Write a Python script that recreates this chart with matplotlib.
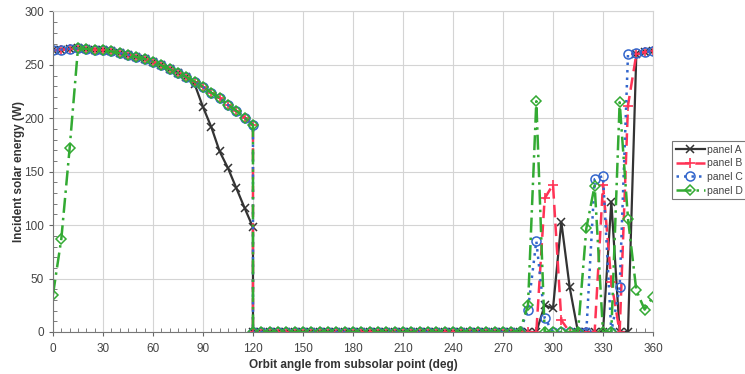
import numpy as np
import matplotlib
matplotlib.use("Agg")
import matplotlib.pyplot as plt
from matplotlib.ticker import MultipleLocator

plt.rcParams['font.family'] = ['Liberation Sans', 'DejaVu Sans']

# orbit angle samples (5 deg steps, with a duplicate point at 120 for the eclipse entry)
angles = list(range(0, 125, 5)) + list(range(120, 365, 5))

# sunlit curve shared by the panels from 0 to 120 deg
sunlit = [263.6, 264.3, 265.0, 265.5, 265.0, 264.3, 263.7, 262.7, 261.0, 259.6,
          257.4, 255.6, 252.8, 249.6, 246.0, 242.4, 238.7, 234.3, 229.3, 224.0,
          219.0, 212.5, 207.0, 200.6, 193.7]
panel_a_head = [263.6, 264.3, 265.0, 265.5, 265.0, 264.3, 263.7, 262.7, 261.0, 259.6,
                257.4, 255.6, 252.8, 249.6, 246.0, 242.4, 238.7, 232.0, 210.6, 191.8,
                169.0, 153.4, 134.7, 116.0, 98.0]
panel_d_head = [35.0, 87.0, 172.0, 265.5, 265.0, 264.3, 263.7, 262.7, 261.0, 259.6,
                257.4, 255.6, 252.8, 249.6, 246.0, 242.4, 238.7, 234.3, 229.3, 224.0,
                219.0, 212.5, 207.0, 200.6, 193.7]

# eclipse, 120 .. 280 deg
eclipse = [0.0] * 33

# 285 .. 360 deg
panel_a_tail = [0, 0, 25, 22, 103, 42, 0, 0, 0, 0, 122, 0, 0, 260, 262, 263]
panel_b_tail = [0, 0, 125, 138, 11, 0, 0, 0, 0, 138, 47, 0, 212, 260, 262, 263]
panel_c_tail = [21, 85, 13, 0, 0, 0, 0, 0, 143, 146, 0, 42, 260, 261, 262, 263]
panel_d_tail = [25, 216, 0, 0, 0, 0, 0, 97, 137, 0, 0, 215, 106, 39, 21, 33]

panel_a = panel_a_head + eclipse + panel_a_tail
panel_b = sunlit + eclipse + panel_b_tail
panel_c = sunlit + eclipse + panel_c_tail
panel_d = panel_d_head + eclipse + panel_d_tail

labels = ['panel A', 'panel B', 'panel C', 'panel D']

fig = plt.figure(figsize=(7.45, 3.74), dpi=100)
ax = fig.add_axes([0.0711, 0.1123, 0.8054, 0.8570])

ax.plot(angles, panel_a, color='#333333', lw=1.6, marker='x', ms=6, mew=1.1,
        label=labels[0])
ax.plot(angles, panel_b, color='#ff3355', lw=1.8, ls=(0, (5, 2.5)), marker='+', ms=7,
        mew=1.2, label=labels[1])
ax.plot(angles, panel_c, color='#3366cc', lw=1.8, ls=(0, (1, 2)), marker='o', ms=6.5,
        mfc='none', mew=1.1, label=labels[2])
ax.plot(angles, panel_d, color='#33aa33', lw=1.8, ls=(0, (6, 2, 1, 2)), marker='D', ms=5,
        mfc='none', mew=1.1, label=labels[3])

ax.set_xlim(0, 360)
ax.set_ylim(0, 300)
ax.xaxis.set_major_locator(MultipleLocator(30))
ax.xaxis.set_minor_locator(MultipleLocator(5))
ax.yaxis.set_major_locator(MultipleLocator(50))
ax.yaxis.set_minor_locator(MultipleLocator(10))
ax.grid(True, which='major', color='#d4d4d4', lw=0.8)
ax.set_axisbelow(True)
ax.tick_params(which='major', direction='out', length=3, labelsize=8.5,
               labelcolor='#444444', color='#666666')
ax.tick_params(axis='x', which='major', pad=5)
ax.tick_params(which='minor', direction='in', length=3, color='#666666')
for side in ['top', 'right']:
    ax.spines[side].set_color('#d4d4d4')
for side in ['left', 'bottom']:
    ax.spines[side].set_color('#777777')

ax.set_xlabel('Orbit angle from subsolar point (deg)', fontsize=8.5, fontweight='bold',
              color='#333333', labelpad=3)
ax.set_ylabel('Incident solar energy (W)', fontsize=8.5, fontweight='bold',
              color='#333333')
ax.yaxis.set_label_coords(-0.047, 0.5)

leg = fig.legend(loc='upper left', bbox_to_anchor=(672 / 745, 1 - 141 / 374),
                 fontsize=7.5, frameon=True, fancybox=False, borderpad=0.35,
                 handlelength=2.8, handletextpad=0.2, labelspacing=0.35,
                 borderaxespad=0)
leg.get_frame().set_edgecolor('#555555')
leg.get_frame().set_linewidth(0.8)
for t in leg.get_texts():
    t.set_color('#444444')

fig.savefig('out.png', dpi=100)
